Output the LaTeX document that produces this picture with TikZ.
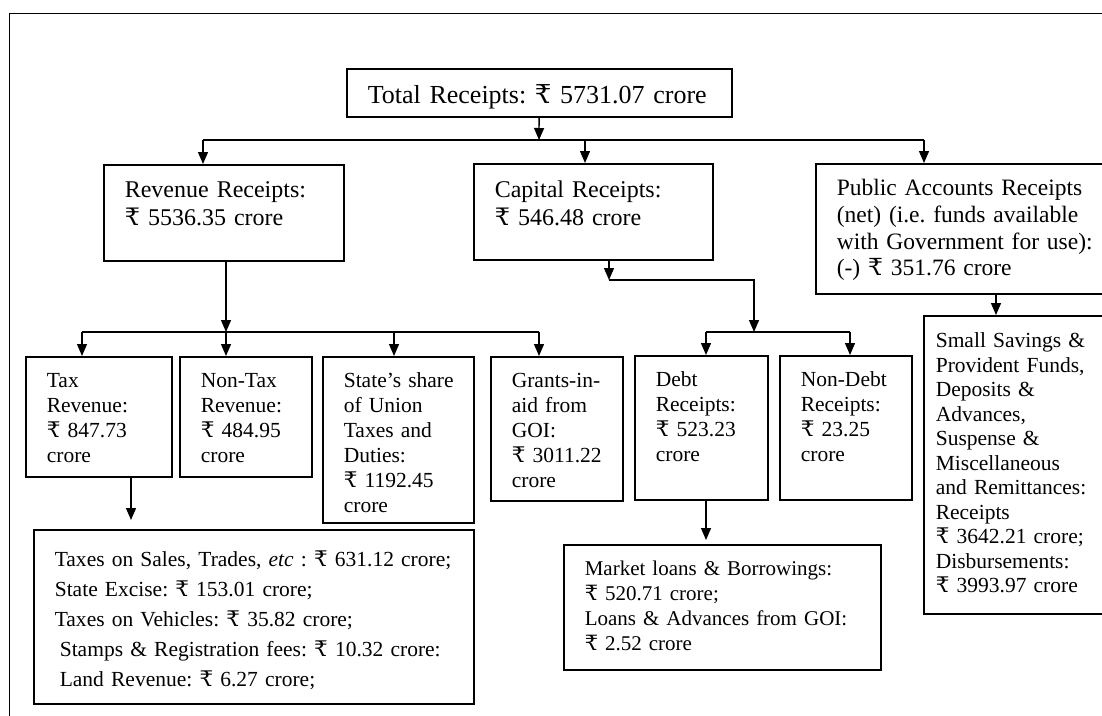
\documentclass[tikz,border=0pt]{standalone}
\usepackage{fontspec}
\setmainfont{Liberation Serif}
\newfontfamily\rsfont{DejaVu Serif}
\usetikzlibrary{arrows.meta}

\newcommand\Rs{{\rsfont ₹}}

\begin{document}
\frenchspacing
\begin{tikzpicture}[x=1pt, y=-1pt,
    box/.style={draw, line width=1.6pt, anchor=north west, align=left, inner xsep=21pt, inner ysep=0pt},
    arr/.style={-{Triangle[length=12pt,width=10pt]}, line width=1.3pt},
    lnk/.style={line width=1.3pt},
    fbig/.style={font=\fontsize{26}{30}\selectfont},
    fmid/.style={font=\fontsize{24}{28}\selectfont},
    fsml/.style={font=\fontsize{21.5}{25}\selectfont}]
  \useasboundingbox (0,0) rectangle (1102,715);
  \clip (0,0) rectangle (1102,715);
  \draw[line width=1pt] (9,760) -- (9,13) -- (1150,13);

  % first row
  \node[box, fbig, text width=343pt, text height=35pt, text depth=13pt] (tot) at (346,68)
    {\mbox{Total Receipts: \Rs~5731.07 crore}};
  \node[box, fmid, text width=198pt, text height=33pt, text depth=63pt] (rev) at (103,164)
    {Revenue Receipts:\\ \Rs~5536.35 crore};
  \node[box, fmid, text width=197pt, text height=34pt, text depth=62pt] (cap) at (473,163)
    {Capital Receipts:\\ \Rs~546.48 crore};
  \node[box, font=\fontsize{23.5}{26.7}\selectfont, text width=258pt, text height=32pt, text depth=98pt] (pub) at (815,163)
    {Public Accounts Receipts\\ (net) (i.e. funds available\\ with~Government~for~use):\\ (-)~\Rs~351.76 crore};

  % second row
  \node[box, fsml, text width=104pt, text height=31pt, text depth=89pt] (tax) at (25,356)
    {Tax\\ Revenue:\\ \Rs~847.73\\ crore};
  \node[box, fsml, text width=90pt, text height=31pt, text depth=89pt] (ntax) at (179,356)
    {Non-Tax\\ Revenue:\\ \Rs~484.95\\ crore};
  \node[box, fsml, text width=109pt, text height=31pt, text depth=135pt] (share) at (322,356)
    {State's~share\\ of~Union\\ Taxes~and\\ Duties:\\ \Rs~1192.45\\ crore};
  \node[box, fsml, text width=90pt, text height=31pt, text depth=113pt] (grant) at (490,356)
    {Grants-in-\\ aid~from\\ GOI:\\ \Rs~3011.22\\ crore};
  \node[box, fsml, text width=91pt, text height=31pt, text depth=113pt] (debt) at (634,355)
    {Debt\\ Receipts:\\ \Rs~523.23\\ crore};
  \node[box, fsml, text width=90pt, text height=31pt, text depth=113pt] (ndebt) at (779,355)
    {Non-Debt\\ Receipts:\\ \Rs~23.25\\ crore};
  \node[box, inner xsep=12pt, text width=176pt, text height=32pt, text depth=266pt,
    font=\fontsize{21.5}{24.5}\selectfont] (sav) at (923,315)
    {Small Savings \&\\ Provident Funds,\\ Deposits \&\\ Advances,\\ Suspense \&\\ Miscellaneous\\
     and Remittances:\\ Receipts\\ \Rs~3642.21 crore;\\ Disbursements:\\ \Rs~3993.97 crore};

  % third row
  \node[box, font=\fontsize{21.5}{30}\selectfont, text width=398pt, text height=37pt, text depth=137pt] (taxd) at (33,529)
    {Taxes on Sales, Trades, \textit{etc} : \Rs~631.12 crore;\\
     State Excise: \Rs~153.01 crore;\\
     Taxes on Vehicles: \Rs~35.82 crore;\\
     \hspace*{5pt}Stamps \& Registration fees: \Rs~10.32 crore:\\
     \hspace*{5pt}Land Revenue: \Rs~6.27 crore;};
  \node[box, font=\fontsize{21}{25}\selectfont, text width=275pt, text height=31pt, text depth=94pt] (mkt) at (563,544)
    {Market loans \& Borrowings:\\ \Rs~520.71 crore;\\ Loans \& Advances from GOI:\\ \Rs~2.52 crore};

  % total -> three heads
  \coordinate (j1) at (539,140);
  \coordinate (j1a) at (203,140);
  \coordinate (j1b) at (585,140);
  \coordinate (j1c) at (924,140);
  \draw[arr] (tot) -- (j1);
  \draw[lnk] (j1a) -- (j1c);
  \draw[arr] (j1a) -- (j1a|-rev.north);
  \draw[arr] (j1b) -- (j1b|-cap.north);
  \draw[arr] (j1c) -- (j1c|-pub.north);

  % revenue
  \coordinate (j2) at (226,332);
  \coordinate (j2a) at (82,332);
  \coordinate (j2c) at (394,332);
  \coordinate (j2d) at (539,332);
  \draw[arr] (rev.south-|j2) -- (j2);
  \draw[lnk] (j2a) -- (j2d);
  \draw[arr] (j2a) -- (j2a|-tax.north);
  \draw[arr] (j2) -- (j2|-ntax.north);
  \draw[arr] (j2c) -- (j2c|-share.north);
  \draw[arr] (j2d) -- (j2d|-grant.north);

  % capital
  \coordinate (k1) at (609,280);
  \coordinate (j3) at (754,332);
  \coordinate (j3a) at (706,332);
  \coordinate (j3b) at (850,332);
  \draw[arr] (cap.south-|k1) -- (k1);
  \draw[arr] (k1) -| (j3);
  \draw[lnk] (j3a) -- (j3b);
  \draw[arr] (j3a) -- (j3a|-debt.north);
  \draw[arr] (j3b) -- (j3b|-ndebt.north);

  % public, tax, debt
  \coordinate (p1) at (996,0);
  \draw[arr] (pub.south-|p1) -- (sav.north-|p1);
  \coordinate (t1) at (131,0);
  \draw[arr, shorten >=9pt] (tax.south-|t1) -- (taxd.north-|t1);
  \coordinate (m1) at (706,0);
  \draw[arr, shorten >=4pt] (debt.south-|m1) -- (mkt.north-|m1);
\end{tikzpicture}
\end{document}
